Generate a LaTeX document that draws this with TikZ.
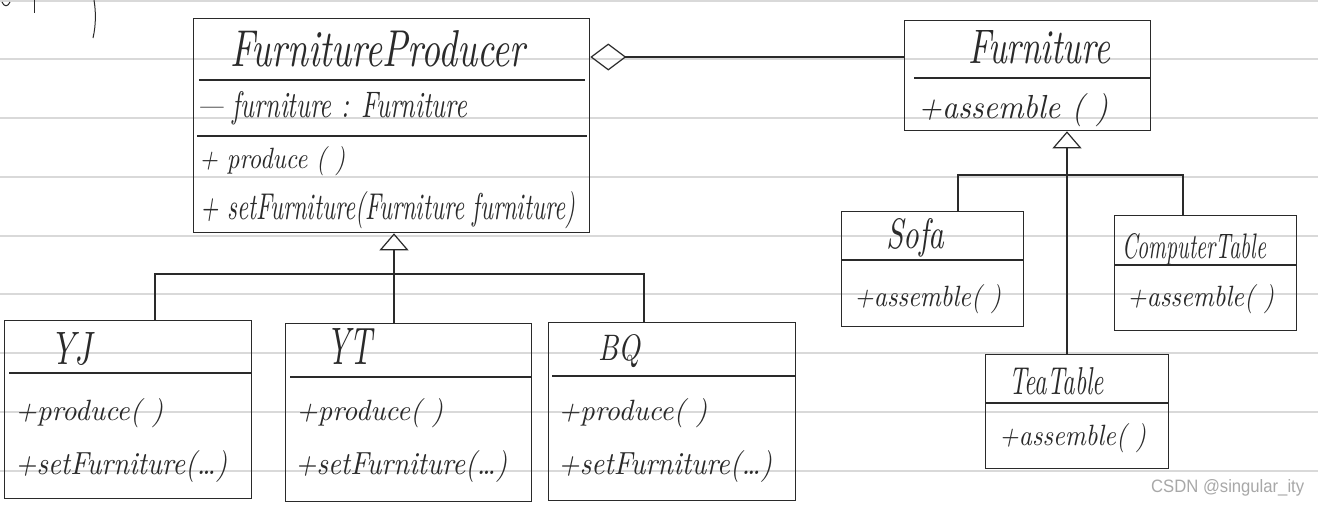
\documentclass[tikz,border=0pt]{standalone}
\usepackage{graphicx}
\usepackage{fontspec}
\newfontfamily\wmfont{Liberation Sans}
\usetikzlibrary{arrows.meta}
\definecolor{ink}{HTML}{2A2A2A}
\definecolor{paper}{HTML}{D9D9D9}
\definecolor{wm}{HTML}{A8A8A8}
\newcommand{\hw}[3]{\resizebox{#1pt}{#2pt}{\itshape #3}}
\begin{document}
\begin{tikzpicture}[x=1pt,y=-1pt,
  box/.style={draw=ink, line width=1.3pt, rectangle, anchor=north west, inner sep=0pt},
  sep/.style={draw=ink, line width=1.2pt},
  conn/.style={draw=ink, line width=1.2pt},
  inh/.style={conn, -{Triangle[open, length=17pt, width=29pt]}},
  agg/.style={conn, -{Diamond[open, length=36pt, width=27pt]}},
  txt/.style={anchor=base west, inner sep=0pt, text=ink},
  ruled/.style={draw=paper, line width=2pt}]
\useasboundingbox (0,0) rectangle (1318,506);
\fill[white] (0,0) rectangle (1318,506);
\foreach \y in {1,59,118,177,236,294,353,412,471} \draw[ruled] (0,\y) -- (1318,\y);

% scribbles at top-left
\draw[ink, line width=1pt] (94,0) .. controls (96,12) and (96,25) .. (93,38);
\draw[ink, line width=1pt] (34,0) -- (34,13);
\draw[ink, line width=1pt] (2,2) .. controls (4,7) and (8,7) .. (10,2);

% boxes
\node[box, minimum width=396pt, minimum height=214pt] (fp) at (193,18) {};
\node[box, minimum width=246pt, minimum height=110pt] (fu) at (904,20) {};
\node[box, minimum width=182pt, minimum height=115pt] (sofa) at (841,211) {};
\node[box, minimum width=182pt, minimum height=115pt] (ct) at (1114,215) {};
\node[box, minimum width=183pt, minimum height=114pt] (tt) at (985,354) {};
\node[box, minimum width=247pt, minimum height=178pt] (yj) at (4,320) {};
\node[box, minimum width=246pt, minimum height=178pt] (yt) at (285,323) {};
\node[box, minimum width=247pt, minimum height=178pt] (bq) at (548,322) {};

% separators
\draw[sep] (199,80) -- (585,80);
\draw[sep] (197,136) -- (587,136);
\draw[sep] (914,78) -- (1150,78);
\draw[sep] (841,260) -- (1023,260);
\draw[sep] (1114,265) -- (1296,265);
\draw[sep] (985,403) -- (1168,403);
\draw[sep] (9,373) -- (251,373);
\draw[sep] (290,377) -- (531,377);
\draw[sep] (552,376) -- (795,376);

% texts
\node[txt] (fpT) at (230,66) {\hw{295}{36}{FurnitureProducer}};
\node[txt] (fpA) at (197,117) {\hw{270}{26}{--- furniture : Furniture}};
\node[txt] (fpM1) at (199,168) {\hw{146}{22}{+ produce ( )}};
\node[txt] (fpM2) at (200,219) {\hw{375}{28}{+ setFurniture(Furniture furniture)}};
\node[txt] (fuT) at (968,63) {\hw{142}{33}{Furniture}};
\node[txt] (fuM) at (918,118) {\hw{190}{25}{+assemble ( )}};
\node[txt] (soT) at (886,248) {\hw{58}{30}{Sofa}};
\node[txt] (soM) at (854,306) {\hw{147}{22}{+assemble( )}};
\node[txt] (ctT) at (1122,258) {\hw{144}{25}{ComputerTable}};
\node[txt] (ctM) at (1127,306) {\hw{147}{22}{+assemble( )}};
\node[txt] (ttT) at (1009,394) {\hw{95}{27}{TeaTable}};
\node[txt] (ttM) at (999,445) {\hw{147}{22}{+assemble( )}};
\node[txt] (yjT) at (50,364) {\hw{42}{32}{YJ}};
\node[txt] (yjM1) at (15,420) {\hw{148}{22}{+produce( )}};
\node[txt] (yjM2) at (15,474) {\hw{212}{24}{+setFurniture(\dots)}};
\node[txt] (ytT) at (326,364) {\hw{46}{36}{YT}};
\node[txt] (ytM1) at (296,420) {\hw{147}{22}{+produce( )}};
\node[txt] (ytM2) at (295,474) {\hw{212}{24}{+setFurniture(\dots)}};
\node[txt] (bqT) at (598,360) {\hw{42}{26}{BQ}};
\node[txt] (bqM1) at (558,420) {\hw{149}{22}{+produce( )}};
\node[txt] (bqM2) at (558,474) {\hw{214}{24}{+setFurniture(\dots)}};

\node[anchor=base west, inner sep=0pt, text=wm] (wmk) at (1151,492) {\resizebox{153pt}{13pt}{\wmfont CSDN @singular\_ity}};

% connectors
\coordinate (fpJ) at (394,274);
\coordinate (yjUp) at (155,274);
\coordinate (bqUp) at (644,274);
\draw[inh] (yt.north -| fpJ) -- (fp.south -| fpJ);
\draw[conn] (yj.north -| yjUp) -- (yjUp) -- (bqUp) -- (bq.north -| bqUp);

\coordinate (fuJ) at (1067,175);
\coordinate (soUp) at (958,175);
\coordinate (ctUp) at (1183,175);
\draw[inh] (tt.north -| fuJ) -- (fu.south -| fuJ);
\draw[conn] (sofa.north -| soUp) -- (soUp) -- (ctUp) -- (ct.north -| ctUp);

\coordinate (aggY) at (0,57);
\draw[agg] (fu.west |- aggY) -- (fp.east |- aggY);
\end{tikzpicture}
\end{document}
